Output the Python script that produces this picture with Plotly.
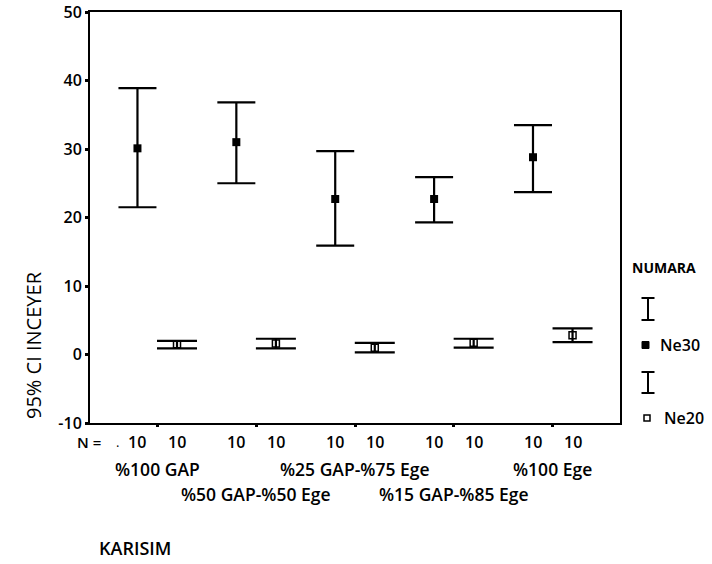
import plotly.graph_objects as go

# ---- data ----
categories = ["%100 GAP", "%50 GAP-%50 Ege", "%25 GAP-%75 Ege", "%15 GAP-%85 Ege", "%100 Ege"]
n_ne30 = [10, 10, 10, 10, 10]
n_ne20 = [10, 10, 10, 10, 10]
ne30_mean = [30.1, 31.0, 22.7, 22.7, 28.8]
ne30_low = [21.5, 25.0, 15.9, 19.3, 23.7]
ne30_high = [38.9, 36.8, 29.7, 25.9, 33.5]
ne20_mean = [1.5, 1.6, 1.0, 1.7, 2.8]
ne20_low = [0.9, 0.9, 0.3, 1.0, 1.8]
ne20_high = [2.0, 2.3, 1.7, 2.3, 3.8]
y_ticks = [-10, 0, 10, 20, 30, 40, 50]

W, H = 712, 564
L, R, T, B = 90, 620, 12, 423
FONT = "Open Sans"


def px(x):
    return (x - L) / (R - L)


def py(y):
    return (B - y) / (B - T)


idx = list(range(len(categories)))
x30 = [i - 0.2 for i in idx]
x20 = [i + 0.2 for i in idx]

fig = go.Figure()
fig.add_trace(go.Scatter(
    x=x30, y=ne30_mean, mode="markers",
    marker=dict(symbol="square", size=8, color="black"),
    error_y=dict(type="data", symmetric=False,
                 array=[h - m for h, m in zip(ne30_high, ne30_mean)],
                 arrayminus=[m - l for m, l in zip(ne30_mean, ne30_low)],
                 color="black", thickness=2.2, width=19),
    showlegend=False, name="Ne30"))
fig.add_trace(go.Scatter(
    x=x20, y=ne20_mean, mode="markers",
    marker=dict(symbol="square-open", size=7, color="black", line=dict(width=1.5, color="black")),
    error_y=dict(type="data", symmetric=False,
                 array=[h - m for h, m in zip(ne20_high, ne20_mean)],
                 arrayminus=[m - l for m, l in zip(ne20_mean, ne20_low)],
                 color="black", thickness=2.2, width=20),
    showlegend=False, name="Ne20"))

annotations = []
# N row
annotations.append(dict(x=px(103), y=py(442), xref="paper", yref="paper", text="N =",
                        showarrow=False, xanchor="right", yanchor="middle",
                        font=dict(family=FONT, size=15, color="black", weight=600)))
annotations.append(dict(x=px(117), y=py(442), xref="paper", yref="paper", text=".",
                        showarrow=False, xanchor="center", yanchor="middle",
                        font=dict(family=FONT, size=13, color="black")))
for i in idx:
    annotations.append(dict(x=x30[i], y=py(442), xref="x", yref="paper", text=str(n_ne30[i]),
                            showarrow=False, xanchor="center", yanchor="middle",
                            font=dict(family=FONT, size=16, color="black", weight=600)))
    annotations.append(dict(x=x20[i], y=py(442), xref="x", yref="paper", text=str(n_ne20[i]),
                            showarrow=False, xanchor="center", yanchor="middle",
                            font=dict(family=FONT, size=16, color="black", weight=600)))
    row_y = 469 if i % 2 == 0 else 494
    annotations.append(dict(x=i, y=py(row_y), xref="x", yref="paper", text=categories[i],
                            showarrow=False, xanchor="center", yanchor="middle",
                            font=dict(family=FONT, size=17.5, color="black", weight=600)))

annotations.append(dict(x=px(97), y=py(548), xref="paper", yref="paper", text="KARISIM",
                        showarrow=False, xanchor="left", yanchor="middle",
                        font=dict(family=FONT, size=18, color="black", weight=600)))
annotations.append(dict(x=px(33), y=py(345), xref="paper", yref="paper", text="95% CI INCEYER",
                        showarrow=False, xanchor="center", yanchor="middle", textangle=-90,
                        font=dict(family=FONT, size=20, color="black")))
# legend
annotations.append(dict(x=px(630), y=py(267), xref="paper", yref="paper", text="NUMARA",
                        showarrow=False, xanchor="left", yanchor="middle",
                        font=dict(family=FONT, size=14, color="black", weight=700)))
annotations.append(dict(x=px(658), y=py(345), xref="paper", yref="paper", text="Ne30",
                        showarrow=False, xanchor="left", yanchor="middle",
                        font=dict(family=FONT, size=16, color="black", weight=600)))
annotations.append(dict(x=px(662), y=py(418), xref="paper", yref="paper", text="Ne20",
                        showarrow=False, xanchor="left", yanchor="middle",
                        font=dict(family=FONT, size=16, color="black", weight=600)))

shapes = []
for (ytop, ybot) in [(298, 320), (372, 393)]:
    xc = 648
    shapes.append(dict(type="line", xref="paper", yref="paper", x0=px(xc), x1=px(xc),
                       y0=py(ytop), y1=py(ybot), line=dict(color="black", width=2)))
    for yy in (ytop, ybot):
        shapes.append(dict(type="line", xref="paper", yref="paper", x0=px(xc - 6.5), x1=px(xc + 6.5),
                           y0=py(yy), y1=py(yy), line=dict(color="black", width=2)))
shapes.append(dict(type="rect", xref="paper", yref="paper", x0=px(642), x1=px(649),
                   y0=py(348.5), y1=py(341.5), fillcolor="black", line=dict(color="black", width=1)))
shapes.append(dict(type="rect", xref="paper", yref="paper", x0=px(644), x1=px(650),
                   y0=py(421), y1=py(415), fillcolor="rgba(0,0,0,0)", line=dict(color="black", width=1.5)))

fig.update_layout(
    width=W, height=H,
    margin=dict(l=L, r=W - R, t=T, b=H - B, pad=0, autoexpand=False),
    paper_bgcolor="white", plot_bgcolor="white",
    showlegend=False,
    annotations=annotations, shapes=shapes,
    xaxis=dict(range=[-0.68, 4.68], tickvals=idx, ticktext=["" for _ in idx], automargin=False,
               showgrid=False, zeroline=False, showline=True, linecolor="black", linewidth=2,
               mirror=True, ticks="outside", ticklen=2, tickwidth=3, tickcolor="black"),
    yaxis=dict(range=[-10, 50], tickvals=y_ticks, ticktext=[str(v) for v in y_ticks], automargin=False,
               showgrid=False, zeroline=False, showline=True, linecolor="black", linewidth=2,
               mirror=True, ticks="outside", ticklen=3, tickwidth=3, tickcolor="black",
               tickfont=dict(family=FONT, size=16, color="black", weight=600)),
)

fig.write_html("out.html", config={"displayModeBar": False},
               post_script="document.body.style.margin='0px';")
